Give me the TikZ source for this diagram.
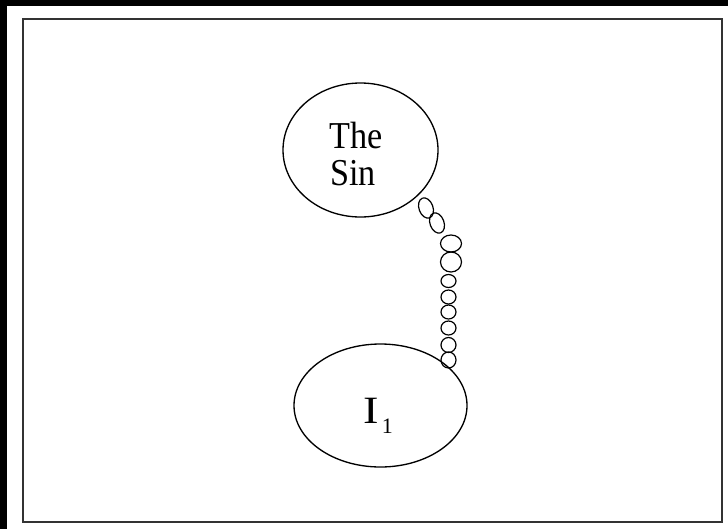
\documentclass[tikz,border=0pt]{standalone}
\usepackage{fontspec}
\setmainfont{Liberation Serif}
\usepackage{graphicx}
\usetikzlibrary{shapes.geometric}
\begin{document}
\begin{tikzpicture}[x=0.75pt,y=-0.75pt,
  oval/.style={ellipse, draw=black, line width=1pt, inner sep=0pt},
  bub/.style={ellipse, draw=black, line width=0.9pt, inner sep=0pt},
  lbl/.style={inner sep=0pt, font=\fontsize{28.5}{28.5}\selectfont}]
\useasboundingbox (0,0) rectangle (728,529);
\fill[black] (0,0) rectangle (728,5.5);
\fill[black] (0,0) rectangle (7,529);
\draw[line width=1.5pt, black!80] (22.5,18.5) rectangle (721.5,521.5);
% thought ovals
\node[oval, minimum width=155*0.75pt, minimum height=134*0.75pt] (sin) at (360.5,150) {};
\node[oval, minimum width=173*0.75pt, minimum height=123*0.75pt] (ione) at (380.5,405.5) {};
% texts
\node[lbl, anchor=base west] (the) at (329,148) {\scalebox{0.9}[1]{The}};
\node[lbl, anchor=base west] (sinw) at (330,185) {\scalebox{0.9}[1]{Sin}};
\node[lbl, anchor=base west] (itext) at (363.5,423) {{\fontsize{29}{29}\selectfont\scalebox{1.2}[1]{I}}\hspace{2pt}\raisebox{-7.5pt}{\fontsize{16.5}{16.5}\selectfont 1}};
% bubble chain
\node[bub, minimum width=14*0.75pt, minimum height=21*0.75pt, rotate=20] (b1) at (426,208) {};
\node[bub, minimum width=14*0.75pt, minimum height=21*0.75pt, rotate=20] (b2) at (437,223) {};
\node[bub, minimum width=21*0.75pt, minimum height=17*0.75pt] (b3) at (451,243.5) {};
\node[bub, minimum width=21*0.75pt, minimum height=20*0.75pt] (b4) at (451,262) {};
\node[bub, minimum width=15*0.75pt, minimum height=13*0.75pt] (b5) at (448.5,281) {};
\node[bub, minimum width=15*0.75pt, minimum height=14*0.75pt] (b6) at (448.5,297) {};
\node[bub, minimum width=15*0.75pt, minimum height=14*0.75pt] (b7) at (448.5,312) {};
\node[bub, minimum width=15*0.75pt, minimum height=14*0.75pt] (b8) at (448.5,328) {};
\node[bub, minimum width=15*0.75pt, minimum height=15*0.75pt] (b9) at (448.5,345) {};
\node[bub, minimum width=15*0.75pt, minimum height=16*0.75pt] (b10) at (448.5,360) {};
\end{tikzpicture}
\end{document}
